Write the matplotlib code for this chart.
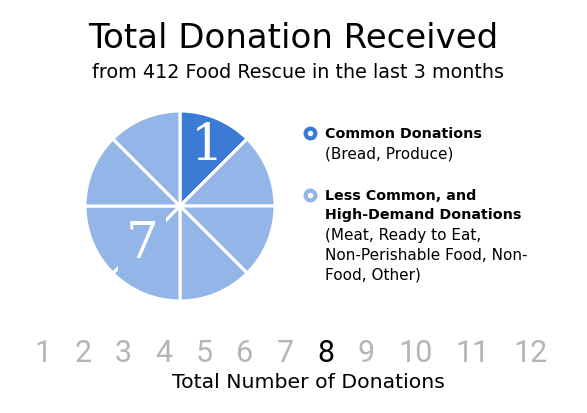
import matplotlib.pyplot as plt

plt.rcParams['font.family'] = ['DejaVu Sans']

# data
categories = ['Common Donations', 'Less Common, and\nHigh-Demand Donations']
counts = [1, 7]
details = ['(Bread, Produce)', '(Meat, Ready to Eat,\nNon-Perishable Food, Non-\nFood, Other)']
scale_numbers = list(range(1, 13))
total = sum(counts)

dark = '#3b7bd6'
light = '#94b5e7'

fig = plt.figure(figsize=(5.87, 4.14), dpi=100)

# pie: one wedge per donation
ax = fig.add_axes([0.1448, 0.2705, 0.3237, 0.459])
wedge_colors = [dark] * counts[0] + [light] * counts[1]
ax.pie([1] * total, colors=wedge_colors, startangle=90, counterclock=False,
       wedgeprops=dict(edgecolor='white', linewidth=2.2))
ax.set_xlim(-1, 1)
ax.set_ylim(-1, 1)
ax.set_aspect('equal')
ax.axis('off')

ax.text(0.28, 0.64, str(counts[0]), color='white', fontsize=37,
        family='DejaVu Serif', ha='center', va='center')
ax.text(-0.40, -0.39, str(counts[1]), color='white', fontsize=37,
        family='DejaVu Serif', ha='center', va='center',
        bbox=dict(facecolor=light, edgecolor='none', pad=5))

# overlay axes in pixel coords for the text blocks
lay = fig.add_axes([0, 0, 1, 1], zorder=-1)
lay.set_xlim(0, 587)
lay.set_ylim(414, 0)
lay.axis('off')

lay.text(293, 38, 'Total Donation Received', ha='center', va='center',
         fontsize=24.5)
lay.text(298, 73, 'from 412 Food Rescue in the last 3 months',
         ha='center', va='center', fontsize=13.8)

# legend, one text per line
leg_y = [134, 196]
for cat, det, col, y in zip(categories, details, [dark, light], leg_y):
    lay.plot(310, y, 'o', ms=7, mfc='white', mec=col, mew=3)
    for line in cat.split('\n'):
        lay.text(325, y, line, fontsize=10.3, fontweight='bold',
                 va='center', ha='left')
        y += 19.5
    y += 1
    for line in det.split('\n'):
        lay.text(325, y, line, fontsize=11, va='center', ha='left')
        y += 19.5

# number scale, each number placed after the previous one
prev = None
for n in scale_numbers:
    col = 'black' if n == total else '#b5b5b5'
    if prev is None:
        prev = lay.text(34, 354, str(n), fontsize=22, color=col,
                        family='Roboto', ha='left', va='center')
    else:
        prev = lay.annotate(str(n), xy=(1, 0.5), xycoords=prev,
                            xytext=(16.8, 0), textcoords='offset points',
                            fontsize=22, color=col,
                            family='Roboto', ha='left', va='center')

lay.text(308, 383, 'Total Number of Donations', ha='center', va='center',
         fontsize=14.7)

fig.savefig('out.png', dpi=100, facecolor='white')
